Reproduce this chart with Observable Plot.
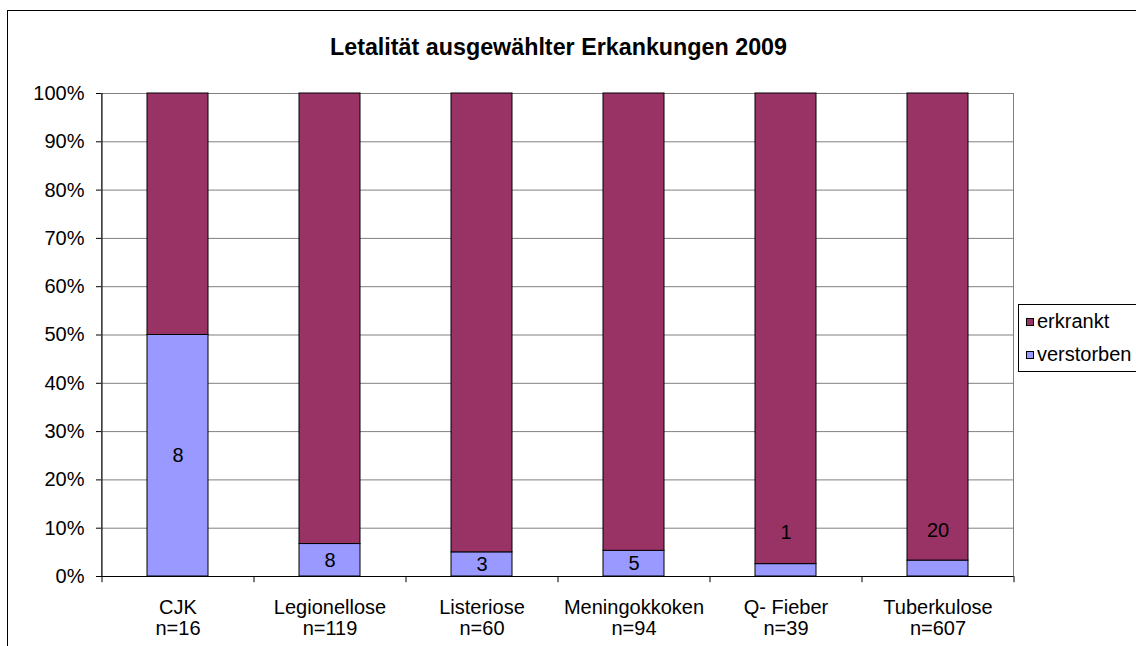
<!DOCTYPE html>
<html>
<head>
<meta charset="utf-8">
<script src="https://cdn.jsdelivr.net/npm/d3@7"></script>
<script src="https://cdn.jsdelivr.net/npm/@observablehq/plot@0.6"></script>
<style>
  html, body { margin: 0; padding: 0; background: #fff; }
  body { width: 1136px; height: 646px; position: relative; overflow: hidden; font-family: "Liberation Sans", Arial, sans-serif; }
  #frame { position: absolute; left: 7px; top: 10px; width: 1200px; height: 700px; border: 1px solid #000; box-sizing: border-box; }
  #title { position: absolute; left: 0; top: 34px; width: 1117px; text-align: center; font-weight: bold; font-size: 23.3px; line-height: 26px; color: #000; white-space: nowrap; }
  #chart { position: absolute; left: 0; top: 0; }
  #legend { position: absolute; left: 1018px; top: 304px; width: 140px; height: 68px; border: 1px solid #000; box-sizing: border-box; background: #fff; font-size: 20px; line-height: 20px; }
  .sw { position: absolute; left: 7px; width: 8px; height: 8px; border: 1px solid #000; box-sizing: border-box; }
  .lt { position: absolute; left: 18px; white-space: nowrap; color: #000; }
</style>
</head>
<body>
<div id="frame"></div>
<div id="chart"></div>
<div id="title">Letalität ausgewählter Erkankungen 2009</div>
<div id="legend">
  <div class="sw" style="top:13px;background:#993366"></div><span class="lt" style="top:6px">erkrankt</span>
  <div class="sw" style="top:46px;background:#9999FF"></div><span class="lt" style="top:39px">verstorben</span>
</div>
<script>
const categories = ["CJK", "Legionellose", "Listeriose", "Meningokkoken", "Q- Fieber", "Tuberkulose"];
const totals = [16, 119, 60, 94, 39, 607];
const deceased = [8, 8, 3, 5, 1, 20];
const yTicks = [0, 10, 20, 30, 40, 50, 60, 70, 80, 90, 100];
const series = ["verstorben", "erkrankt"];
const colors = ["#9999FF", "#993366"];
const movedLabels = ["Q- Fieber", "Tuberkulose"];

const rows = [];
categories.forEach((c, i) => {
  rows.push({cat: c, status: "verstorben", count: deceased[i], pct: deceased[i] / totals[i] * 100});
});
categories.forEach((c, i) => {
  rows.push({cat: c, status: "erkrankt", count: totals[i] - deceased[i], pct: (totals[i] - deceased[i]) / totals[i] * 100});
});
const dead = rows.filter(d => d.status === "verstorben");
const info = categories.map((c, i) => ({cat: c, n: "n=" + totals[i]}));

const chart = Plot.plot({
  width: 1136,
  height: 646,
  marginLeft: 101,
  marginRight: 123,
  marginTop: 93,
  marginBottom: 70,
  style: {fontFamily: "Liberation Sans, Arial, sans-serif", fontSize: "20px", background: "transparent", color: "#000"},
  x: {domain: categories, paddingInner: 0.6, paddingOuter: 0.3, axis: null},
  y: {domain: [0, 100], axis: null},
  color: {domain: series, range: colors},
  marks: [
    Plot.gridY(yTicks, {stroke: "#808080", strokeOpacity: 1}),
    Plot.frame({stroke: "#808080"}),
    Plot.barY(rows, Plot.stackY({x: "cat", y: "pct", fill: "status", stroke: "#000", strokeWidth: 1, order: series})),
    Plot.ruleY([0], {stroke: "#000"}),
    Plot.ruleX([categories[0]], {x: d => d, dx: -76, stroke: "#000"}),
    Plot.axisY(yTicks, {label: null, tickFormat: d => d + "%", tickSize: 5, tickPadding: 12, stroke: "#000", fill: "#000", fontSize: 20}),
    Plot.ruleX(categories, {x: d => d, dx: -76, y1: 0, y2: -1.3, stroke: "#000"}),
    Plot.ruleX([categories[categories.length - 1]], {x: d => d, dx: 76, y1: 0, y2: -1.3, stroke: "#000"}),
    Plot.text(dead.filter(d => !movedLabels.includes(d.cat)), {x: "cat", y: d => d.pct / 2, text: d => String(d.count), fontSize: 20, fill: "#000"}),
    Plot.text(dead.filter(d => movedLabels.includes(d.cat)), {x: "cat", y: d => d.pct / 2, text: d => String(d.count), dy: -38, fontSize: 20, fill: "#000"}),
    Plot.text(info, {x: "cat", y: 0, text: "cat", dy: 30.6, fontSize: 20, fill: "#000"}),
    Plot.text(info, {x: "cat", y: 0, text: "n", dy: 51.6, fontSize: 20, fill: "#000"})
  ]
});
document.getElementById("chart").appendChild(chart);
</script>
</body>
</html>
